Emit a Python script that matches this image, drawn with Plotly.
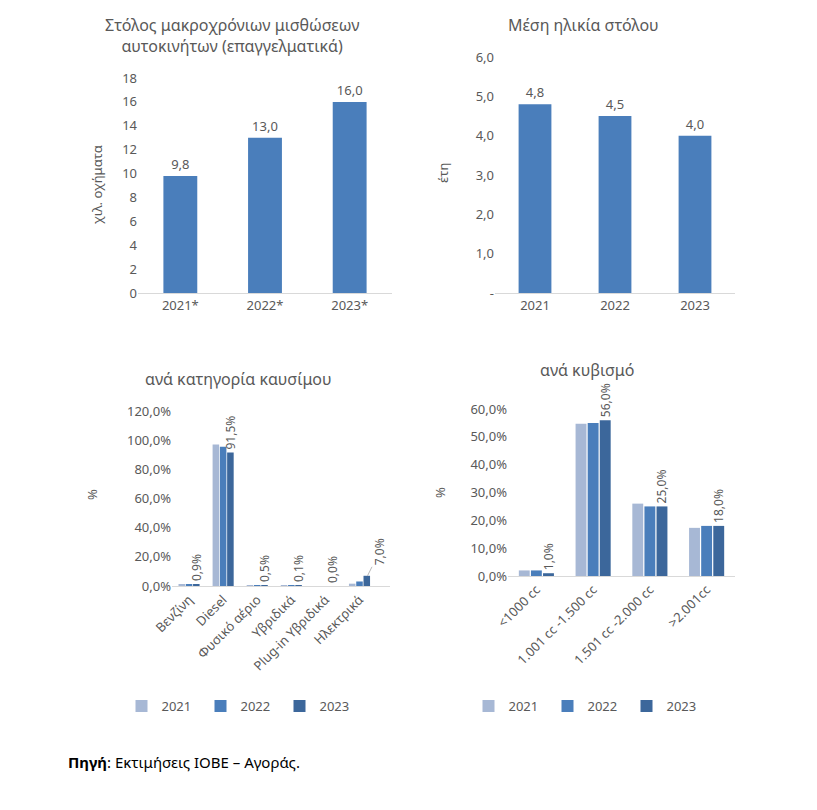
import plotly.graph_objects as go

# ---- data ----
fleet_years = ["2021*", "2022*", "2023*"]
fleet_values = [9.8, 13.0, 16.0]
fleet_ticks = [0, 2, 4, 6, 8, 10, 12, 14, 16, 18]

age_years = ["2021", "2022", "2023"]
age_values = [4.8, 4.5, 4.0]
age_tickvals = [0, 1, 2, 3, 4, 5, 6]
age_ticktext = ["-", "1,0", "2,0", "3,0", "4,0", "5,0", "6,0"]

fuel_cats = ["Βενζίνη", "Diesel", "Φυσικό αέριο", "Υβριδικά", "Plug-in Υβριδικά", "Ηλεκτρικά"]
fuel_2021 = [1.0, 97.0, 0.3, 0.1, 0.0, 1.6]
fuel_2022 = [1.0, 95.5, 0.3, 0.1, 0.0, 3.1]
fuel_2023 = [0.9, 91.5, 0.5, 0.1, 0.0, 7.0]
fuel_ticks = [0, 20, 40, 60, 80, 100, 120]
fuel_ticktext = ["0,0%", "20,0%", "40,0%", "60,0%", "80,0%", "100,0%", "120,0%"]

cc_cats = ["<1000 cc", "1.001 cc -1.500 cc", "1.501 cc -2.000 cc", ">2.001cc"]
cc_2021 = [2.0, 54.7, 26.0, 17.3]
cc_2022 = [2.0, 55.0, 25.0, 18.0]
cc_2023 = [1.0, 56.0, 25.0, 18.0]
cc_ticks = [0, 10, 20, 30, 40, 50, 60]
cc_ticktext = ["0,0%", "10,0%", "20,0%", "30,0%", "40,0%", "50,0%", "60,0%"]

series_names = ["2021", "2022", "2023"]
series_colors = ["#A7B8D5", "#4A7EBB", "#3C679B"]
single_color = "#4A7EBB"

FONT = "Noto Sans"
GRAY = "#595959"
AXIS_LINE = "#D9D9D9"
W, H = 817, 810


def px_x(p):
    return p / W


def px_y(p):
    return 1 - p / H


def pct(v):
    return f"{v:.1f}%".replace(".", ",")


fig = go.Figure()

# Top-left: fleet
fig.add_trace(go.Bar(
    x=fleet_years, y=fleet_values, marker_color=single_color, width=0.4,
    texttemplate="%{y:.1f}", textposition="outside", cliponaxis=False, constraintext="none",
    textfont=dict(size=13, color=GRAY, family=FONT),
    xaxis="x", yaxis="y", showlegend=False))

# Top-right: age
fig.add_trace(go.Bar(
    x=age_years, y=age_values, marker_color=single_color, width=0.41,
    texttemplate="%{y:.1f}", textposition="outside", cliponaxis=False, constraintext="none",
    textfont=dict(size=13, color=GRAY, family=FONT),
    xaxis="x2", yaxis="y2", showlegend=False))

# Bottom-left: fuel
fuel_series = [fuel_2021, fuel_2022, fuel_2023]
for i, (name, vals) in enumerate(zip(series_names, fuel_series)):
    kw = {}
    if i == 2:
        txt = [pct(v) for v in vals]
        txt[-1] = ""
        kw = dict(text=txt, textposition="outside", textangle=-90, cliponaxis=False,
                  constraintext="none", textfont=dict(size=12, color=GRAY, family=FONT))
    fig.add_trace(go.Bar(
        x=fuel_cats, y=vals, name=name, marker_color=series_colors[i],
        marker_line_width=0, xaxis="x3", yaxis="y3", legend="legend", **kw))

# Bottom-right: cc
cc_series = [cc_2021, cc_2022, cc_2023]
for i, (name, vals) in enumerate(zip(series_names, cc_series)):
    kw = {}
    if i == 2:
        kw = dict(text=[pct(v) for v in vals], textposition="outside", textangle=-90,
                  cliponaxis=False, constraintext="none",
                  textfont=dict(size=12, color=GRAY, family=FONT))
    fig.add_trace(go.Bar(
        x=cc_cats, y=vals, name=name, marker_color=series_colors[i],
        marker_line_width=0, xaxis="x4", yaxis="y4", legend="legend2", **kw))

tickfont = dict(size=13, color=GRAY, family=FONT)

xcommon = dict(showgrid=False, zeroline=False, showline=True, linecolor=AXIS_LINE,
               linewidth=1, ticks="", tickfont=tickfont, fixedrange=True, automargin=False)
ycommon = dict(showgrid=False, zeroline=False, showline=False, ticks="",
               tickfont=tickfont, fixedrange=True, automargin=False)

legend_common = dict(orientation="h", yanchor="middle", xanchor="center",
                     font=dict(size=13, color=GRAY, family=FONT), traceorder="normal",
                     itemwidth=30, entrywidth=34, entrywidthmode="pixels",
                     bgcolor="rgba(0,0,0,0)")

fig.update_layout(
    template="none",
    width=W, height=H,
    margin=dict(l=0, r=0, t=0, b=0, autoexpand=False),
    paper_bgcolor="white", plot_bgcolor="white",
    font=dict(family=FONT, color=GRAY),
    separators=",.",
    barmode="group",
    bargap=0.36, bargroupgap=0.1,
    xaxis=dict(domain=[px_x(138), px_x(392)], anchor="y", **xcommon),
    yaxis=dict(domain=[px_y(293), px_y(78)], anchor="x", range=[0, 18],
               tickvals=fleet_ticks, **ycommon),
    xaxis2=dict(domain=[px_x(495), px_x(735)], anchor="y2", **xcommon),
    yaxis2=dict(domain=[px_y(293), px_y(57)], anchor="x2", range=[0, 6],
                tickvals=age_tickvals, ticktext=age_ticktext, **ycommon),
    xaxis3=dict(domain=[px_x(172), px_x(390)], anchor="y3", tickangle=-45, **xcommon),
    yaxis3=dict(domain=[px_y(586), px_y(411)], anchor="x3", range=[0, 120],
                tickvals=fuel_ticks, ticktext=fuel_ticktext, **ycommon),
    xaxis4=dict(domain=[px_x(508), px_x(735)], anchor="y4", tickangle=-45, **xcommon),
    yaxis4=dict(domain=[px_y(576), px_y(409)], anchor="x4", range=[0, 60],
                tickvals=cc_ticks, ticktext=cc_ticktext, **ycommon),
    legend=dict(x=px_x(240), y=px_y(706), **legend_common),
    legend2=dict(x=px_x(587), y=px_y(706), **legend_common),
)

ann = []
title_font = dict(size=16, color=GRAY, family=FONT)
ann.append(dict(text="Στόλος μακροχρόνιων μισθώσεων<br>αυτοκινήτων (επαγγελματικά)",
                x=px_x(232), y=px_y(36), xref="paper", yref="paper", showarrow=False,
                font=title_font, xanchor="center", yanchor="middle"))
ann.append(dict(text="Μέση ηλικία στόλου", x=px_x(583), y=px_y(25), xref="paper", yref="paper",
                showarrow=False, font=title_font, xanchor="center", yanchor="middle"))
ann.append(dict(text="ανά κατηγορία καυσίμου", x=px_x(238), y=px_y(379), xref="paper", yref="paper",
                showarrow=False, font=title_font, xanchor="center", yanchor="middle"))
ann.append(dict(text="ανά κυβισμό", x=px_x(587), y=px_y(370), xref="paper", yref="paper",
                showarrow=False, font=title_font, xanchor="center", yanchor="middle"))
# y-axis titles
ax_font = dict(size=13, color=GRAY, family=FONT)
ann.append(dict(text="χιλ. οχήματα", x=px_x(97), y=px_y(185), xref="paper", yref="paper",
                showarrow=False, textangle=-90, font=ax_font, xanchor="center", yanchor="middle"))
ann.append(dict(text="έτη", x=px_x(443), y=px_y(173), xref="paper", yref="paper",
                showarrow=False, textangle=-90, font=ax_font, xanchor="center", yanchor="middle"))
ann.append(dict(text="%", x=px_x(92), y=px_y(495), xref="paper", yref="paper",
                showarrow=False, textangle=-90, font=ax_font, xanchor="center", yanchor="middle"))
ann.append(dict(text="%", x=px_x(440), y=px_y(493), xref="paper", yref="paper",
                showarrow=False, textangle=-90, font=ax_font, xanchor="center", yanchor="middle"))
# offset label with leader line for electric 2023
ann.append(dict(text=pct(fuel_2023[-1]), x=fuel_cats[-1], y=fuel_2023[-1],
                xref="x3", yref="y3", xshift=8, showarrow=True, arrowhead=0, arrowwidth=0.8,
                arrowcolor="#A6A6A6", ax=12, ay=-24, textangle=-90,
                font=dict(size=12, color=GRAY, family=FONT)))
# source note
ann.append(dict(text="<b>Πηγή</b>: Εκτιμήσεις ΙΟΒΕ – Αγοράς.", x=px_x(66), y=px_y(762),
                xref="paper", yref="paper", showarrow=False, xanchor="left", yanchor="middle",
                font=dict(size=15, color="#000000", family=FONT)))
fig.update_layout(annotations=ann)

fig.write_html("out.html", config={"displayModeBar": False},
               post_script="document.body.style.margin='0';")
